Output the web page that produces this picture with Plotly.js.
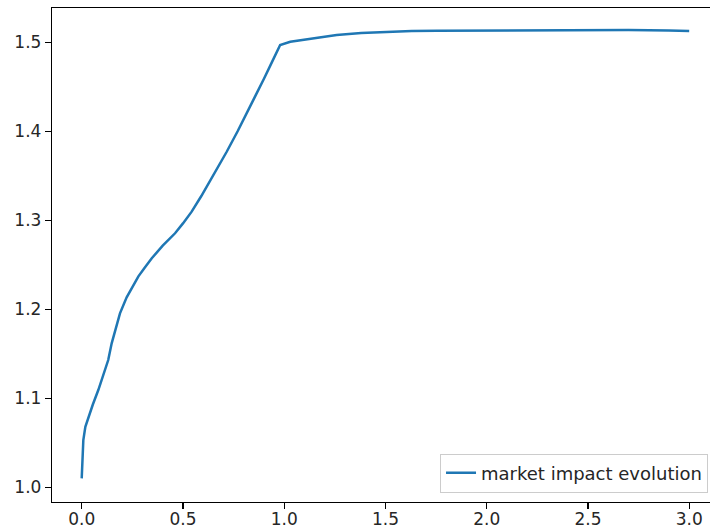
<!DOCTYPE html>
<html>
<head>
<meta charset="utf-8">
<script src="https://cdn.plot.ly/plotly-3.0.1.min.js"></script>
<style>html,body{margin:0;padding:0;background:#fff;}#chart{width:710px;height:531px;}</style>
</head>
<body>
<div id="chart"></div>
<script>
var timeValues = [0, 0.004, 0.008, 0.018, 0.033, 0.055, 0.082, 0.105, 0.131, 0.148, 0.168, 0.189, 0.222, 0.25, 0.28, 0.31, 0.346, 0.40, 0.461, 0.50, 0.543, 0.59, 0.634, 0.68, 0.716, 0.77, 0.815, 0.86, 0.90, 0.94, 0.98, 1.03, 1.094, 1.16, 1.259, 1.38, 1.506, 1.63, 1.753, 1.9, 2.115, 2.3, 2.5, 2.7, 2.9, 3.0];
var impactValues = [1.010, 1.035, 1.053, 1.068, 1.0793, 1.093, 1.1093, 1.125, 1.143, 1.1618, 1.179, 1.1955, 1.2135, 1.2255, 1.237, 1.2465, 1.2573, 1.2715, 1.2854, 1.2965, 1.3097, 1.327, 1.3443, 1.362, 1.377, 1.400, 1.420, 1.441, 1.459, 1.478, 1.497, 1.5005, 1.5026, 1.505, 1.5082, 1.5105, 1.5119, 1.5126, 1.513, 1.5132, 1.5135, 1.5137, 1.5139, 1.5137, 1.5132, 1.5127];
var seriesName = "market impact evolution";
var xTicks = [0, 0.5, 1, 1.5, 2, 2.5, 3];
var xTickText = ["0.0", "0.5", "1.0", "1.5", "2.0", "2.5", "3.0"];
var yTicks = [1.0, 1.1, 1.2, 1.3, 1.4, 1.5];
var yTickText = ["1.0", "1.1", "1.2", "1.3", "1.4", "1.5"];

var font = {family: "DejaVu Sans", size: 18, color: "#262626"};
var tickFont = {family: "DejaVu Sans", size: 17, color: "#262626"};
var trace = {
  x: timeValues, y: impactValues, type: "scatter", mode: "lines",
  name: seriesName, line: {color: "#1f77b4", width: 2.5}
};
var layout = {
  width: 710, height: 531,
  margin: {l: 52, r: 0, t: 8, b: 29, pad: 0},
  paper_bgcolor: "#fff", plot_bgcolor: "#fff",
  font: font,
  showlegend: true,
  xaxis: {
    range: [-0.1467, 3.1027], tickvals: xTicks, ticktext: xTickText,
    showgrid: false, zeroline: false, showline: true, linecolor: "#000", linewidth: 1.2,
    mirror: true, ticks: "outside", ticklen: 6, tickcolor: "#000", tickwidth: 1.2,
    tickfont: tickFont, ticklabelstandoff: -5
  },
  yaxis: {
    range: [0.9835, 1.5385], tickvals: yTicks, ticktext: yTickText,
    showgrid: false, zeroline: false, showline: true, linecolor: "#000", linewidth: 1.2,
    mirror: false, ticks: "outside", ticklen: 6, tickcolor: "#000", tickwidth: 1.2,
    tickfont: tickFont
  },
  legend: {
    x: 0.997, y: 0.019, xanchor: "right", yanchor: "bottom",
    bgcolor: "rgba(255,255,255,0.8)", bordercolor: "#cccccc", borderwidth: 1,
    font: font
  }
};
Plotly.newPlot("chart", [trace], layout, {displayModeBar: false, staticPlot: true});
</script>
</body>
</html>
